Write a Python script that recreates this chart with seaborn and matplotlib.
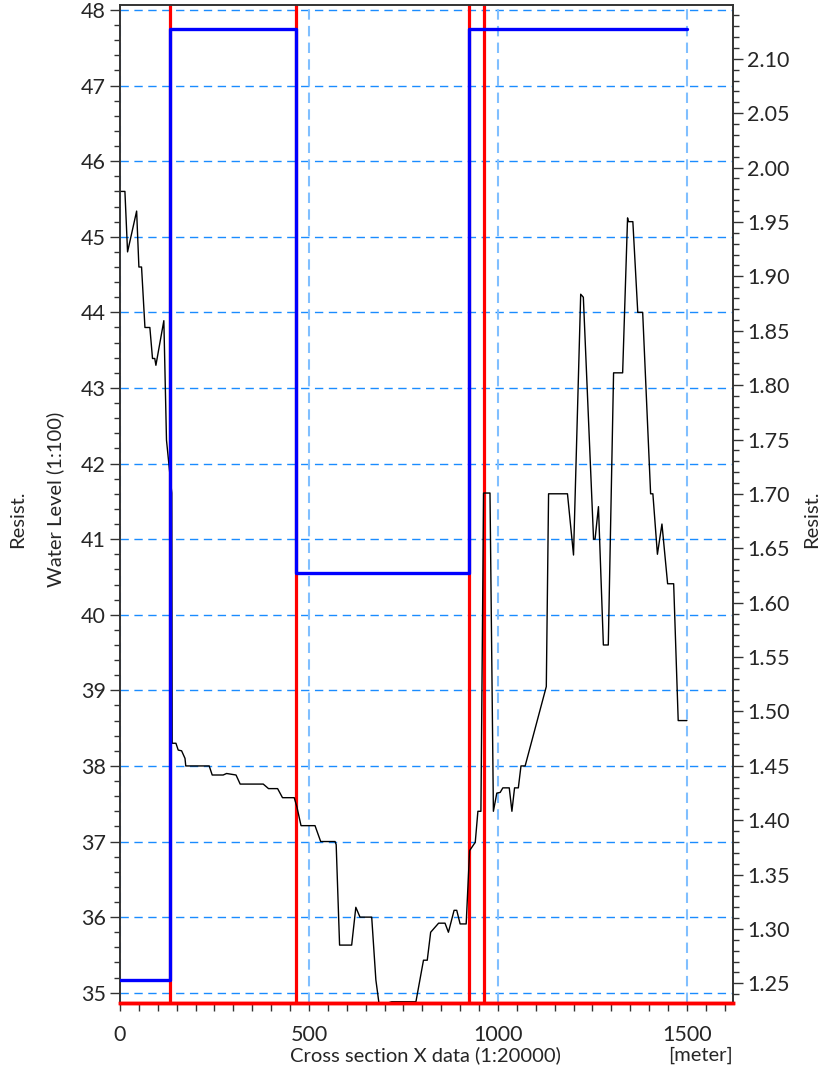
import numpy as np
import pandas as pd
import matplotlib
matplotlib.use("Agg")
import matplotlib.pyplot as plt
from matplotlib.ticker import MultipleLocator, FormatStrFormatter
import seaborn as sns

# ---------------- data ----------------
level_x = [0, 13, 20, 44, 50, 57, 66, 79, 86, 92, 95, 116, 123, 137, 138, 148, 154, 163,
           172, 174, 236, 244, 273, 282, 307, 318, 379, 393, 417, 430, 461, 468, 479, 516,
           531, 569, 572, 581, 613, 624, 635, 666, 677, 685, 700, 719, 783, 803, 813, 822,
           843, 860, 869, 884, 891, 900, 916, 925, 940, 947, 955, 962, 979, 988, 997, 1006,
           1013, 1030, 1037, 1044, 1054, 1061, 1072, 1128, 1134, 1184, 1200, 1219, 1226,
           1253, 1257, 1266, 1279, 1292, 1306, 1330, 1343, 1345, 1357, 1370, 1383, 1404,
           1410, 1422, 1434, 1449, 1465, 1477, 1500]
level_y = [45.60, 45.60, 44.80, 45.34, 44.60, 44.60, 43.80, 43.80, 43.39, 43.39, 43.30,
           43.89, 42.31, 41.61, 38.30, 38.30, 38.21, 38.20, 38.10, 38.00, 38.00, 37.88,
           37.88, 37.90, 37.88, 37.76, 37.76, 37.70, 37.70, 37.58, 37.58, 37.46, 37.21,
           37.21, 37.00, 37.00, 36.96, 35.63, 35.63, 36.13, 36.00, 36.00, 35.17, 34.87,
           34.85, 34.88, 34.88, 35.43, 35.43, 35.80, 35.92, 35.92, 35.80, 36.09, 36.09,
           35.91, 35.91, 36.88, 36.99, 37.40, 37.40, 41.61, 41.61, 37.40, 37.64, 37.65,
           37.71, 37.71, 37.40, 37.71, 37.71, 38.00, 38.00, 39.05, 41.60, 41.60, 40.79,
           44.24, 44.20, 41.00, 41.00, 41.43, 39.60, 39.60, 43.20, 43.20, 45.25, 45.20,
           45.20, 44.00, 44.00, 41.60, 41.60, 40.80, 41.20, 40.41, 40.41, 38.60, 38.60]

resist_x = [0, 132, 466, 924, 1500]
resist_y = [1.253, 2.127, 1.627, 2.127, 2.127]

section_x = [132, 466, 924, 963]

x_major = [0, 500, 1000, 1500]
left_major = list(range(35, 49))

# ---------------- style ----------------
sns.set_style("ticks")
plt.rcParams["font.family"] = ["Lato", "DejaVu Sans"]
plt.rcParams["font.size"] = 14

W, H = 826, 1070
fig = plt.figure(figsize=(W / 100, H / 100), dpi=100)
L, R, T, B = 120, 733, 5, 1003
ax = fig.add_axes([L / W, 1 - B / H, (R - L) / W, (B - T) / H])

df_level = pd.DataFrame({"x": level_x, "level": level_y})
df_res = pd.DataFrame({"x": resist_x, "resist": resist_y})

# grid lines
for yv in left_major:
    ax.axhline(yv, color="#1a8cff", lw=1.0, ls=(0, (6, 4)), zorder=1)
for xv in x_major:
    ax.axvline(xv, color="#80bfff", lw=1.5, ls=(0, (5, 3)), zorder=1)

# red section lines
for xv in section_x:
    ax.axvline(xv, color="#ff0000", lw=2.3, zorder=2)

sns.lineplot(data=df_level, x="x", y="level", ax=ax, color="black", lw=1.0,
             sort=False, estimator=None, zorder=3)

ax.set_xlim(0, 1622)
ax.set_ylim(34.864, 48.066)

ax2 = ax.twinx()
sns.lineplot(data=df_res, x="x", y="resist", ax=ax2, color="#0000ff", lw=2.4,
             sort=False, estimator=None, drawstyle="steps-post", zorder=4)
ax2.set_ylim(1.2319, 2.1495)
ax2.set_xlim(0, 1622)

# ticks
ax.xaxis.set_major_locator(MultipleLocator(500))
ax.xaxis.set_minor_locator(MultipleLocator(50))
ax.yaxis.set_major_locator(MultipleLocator(1))
ax.yaxis.set_minor_locator(MultipleLocator(0.2))
ax2.yaxis.set_major_locator(MultipleLocator(0.05))
ax2.yaxis.set_minor_locator(MultipleLocator(0.01))
ax2.yaxis.set_major_formatter(FormatStrFormatter("%.2f"))

TS = 15.5
ax.tick_params(axis="y", which="major", length=7, width=1, color="#333333", pad=3, labelsize=TS)
ax.tick_params(axis="y", which="minor", length=4, width=1, color="#333333")
ax.tick_params(axis="x", which="major", length=6, width=1, color="#333333", pad=10, labelsize=TS)
ax.tick_params(axis="x", which="minor", length=6, width=1, color="#333333")
ax2.tick_params(axis="y", which="major", length=7, width=1, color="#333333", pad=3, labelsize=TS)
ax2.tick_params(axis="y", which="minor", length=4, width=1, color="#333333")

ax.set_xlabel("")
ax.set_ylabel("")
ax2.set_ylabel("")

for a in (ax, ax2):
    for s in ("top", "left", "right"):
        a.spines[s].set_color("#333333")
        a.spines[s].set_linewidth(1.2)
    a.spines["bottom"].set_color("#ff0000")
    a.spines["bottom"].set_linewidth(2.5)

# labels
LS = 14.5
fig.text(425 / W, 1 - 1055 / H, "Cross section X data (1:20000)", ha="center", va="center", fontsize=LS)
fig.text(733 / W, 1 - 1055 / H, "[meter]", ha="right", va="center", fontsize=LS)
fig.text(18 / W, 1 - 519 / H, "Resist.", rotation=90, ha="center", va="center", fontsize=LS)
fig.text(55 / W, 1 - 499 / H, "Water Level (1:100)", rotation=90, ha="center", va="center", fontsize=LS)
fig.text(812 / W, 1 - 519 / H, "Resist.", rotation=90, ha="center", va="center", fontsize=LS)

fig.savefig("out.png", dpi=100)
